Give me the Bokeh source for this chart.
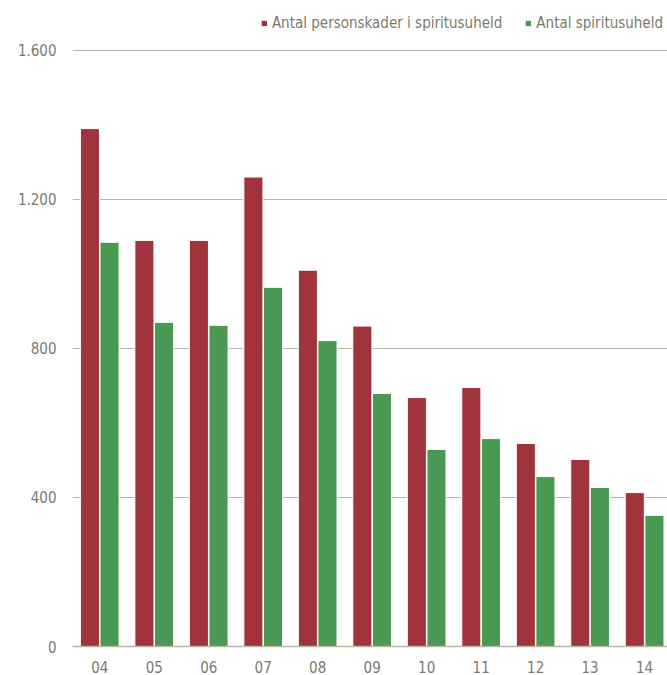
from bokeh.plotting import figure
from bokeh.models import Range1d, FixedTicker, Legend, LegendItem, ColumnDataSource
from bokeh.embed import file_html
from bokeh.resources import INLINE

years = ["04", "05", "06", "07", "08", "09", "10", "11", "12", "13", "14"]
personskader = [1390, 1090, 1090, 1260, 1010, 860, 668, 695, 545, 502, 413]
uheld = [1085, 870, 862, 964, 821, 679, 529, 558, 456, 427, 352]
y_ticks = [0, 400, 800, 1200, 1600]
y_tick_labels = ["0", "400", "800", "1.200", "1.600"]

RED = "#A0333B"
GREEN = "#4A9953"
TXT = "#7B7B6B"
GRID = "#B7B7A7"
FONT = "DejaVu Sans Condensed"

idx = list(range(len(years)))
src = ColumnDataSource(dict(
    x_red=[i - 0.18 for i in idx],
    x_green=[i + 0.18 for i in idx],
    red=personskader,
    green=uheld,
))

p = figure(width=667, height=675, output_backend="svg", toolbar_location=None,
           x_range=Range1d(-0.5, 10.42), y_range=Range1d(0, 1707),
           min_border_left=72, min_border_right=0, min_border_top=10, min_border_bottom=29)
p.outline_line_color = None
p.background_fill_color = "white"

r1 = p.vbar(x="x_red", top="red", width=0.35, source=src, fill_color=RED,
            line_color="white", line_width=1)
r2 = p.vbar(x="x_green", top="green", width=0.35, source=src, fill_color=GREEN,
            line_color="white", line_width=1)

p.xgrid.grid_line_color = None
p.ygrid.grid_line_color = GRID
p.ygrid.grid_line_width = 1.2
p.ygrid.ticker = FixedTicker(ticks=y_ticks)

p.yaxis.ticker = FixedTicker(ticks=y_ticks)
p.yaxis.major_label_overrides = {t: l for t, l in zip(y_ticks, y_tick_labels)}
p.yaxis.axis_line_color = None
p.yaxis.major_tick_line_color = None
p.yaxis.minor_tick_line_color = None
p.yaxis.major_label_standoff = 10
p.yaxis.major_label_text_font = FONT
p.yaxis.major_label_text_font_size = "15px"
p.yaxis.major_label_text_color = TXT

p.xaxis.ticker = FixedTicker(ticks=idx)
p.xaxis.major_label_overrides = {i: y for i, y in zip(idx, years)}
p.xaxis.axis_line_color = GRID
p.xaxis.axis_line_width = 1.5
p.xaxis.major_tick_line_color = None
p.xaxis.minor_tick_line_color = None
p.xaxis.major_tick_out = 0
p.xaxis.major_tick_in = 0
p.xaxis.major_label_standoff = 14
p.xaxis.major_label_text_font = FONT
p.xaxis.major_label_text_font_size = "15px"
p.xaxis.major_label_text_color = TXT

legend = Legend(items=[
    LegendItem(label="Antal personskader i spiritusuheld", renderers=[r1]),
    LegendItem(label="Antal spiritusuheld", renderers=[r2]),
], location="top_right", orientation="horizontal")
legend.border_line_color = None
legend.background_fill_alpha = 0
legend.label_text_font = FONT
legend.label_text_font_size = "15px"
legend.label_text_color = TXT
legend.glyph_width = 8
legend.glyph_height = 8
legend.label_standoff = 4
legend.spacing = 22
legend.padding = 2
legend.margin = 4
p.add_layout(legend)

open("out.html", "w").write(file_html(p, INLINE))
